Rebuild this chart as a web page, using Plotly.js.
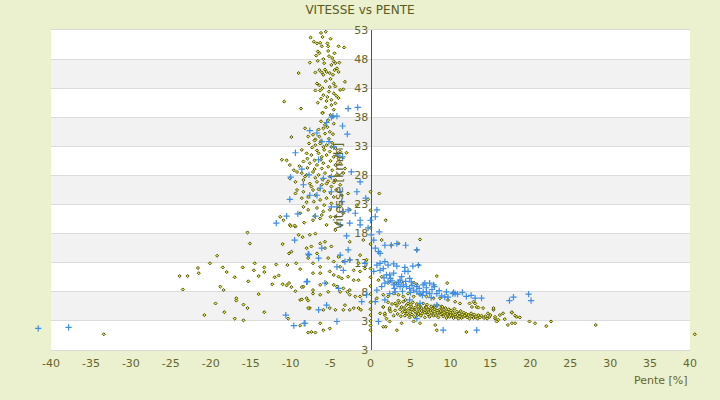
<!DOCTYPE html>
<html>
<head>
<meta charset="utf-8">
<script src="https://cdn.plot.ly/plotly-3.0.1.min.js"></script>
<style>
  html, body { margin: 0; padding: 0; background: #ebf0ce; }
  #graph { width: 720px; height: 400px; }
</style>
</head>
<body>
<div id="graph"></div>
<script>
'use strict';

// Axis ticks.
var penteTicks = [-40, -35, -30, -25, -20, -15, -10, -5, 0, 5, 10, 15, 20, 25, 30, 35, 40];
var vitesseTicks = [-2, 3, 8, 13, 18, 23, 28, 33, 38, 43, 48, 53];
var vitesseTickText = ['3', '3', '8', '13', '18', '23', '28', '33', '38', '43', '48', '53'];

// Olive series, [pente %, vitesse km/h].
var olivePoints = [
  [-7.5,51.7],[-6.2,52.5],[-5.6,52.7],[-7.1,51.0],[-6.7,50.7],[-6.3,50.8],[-6.1,50.2],[-5.4,50.7],[-5.3,50.2],[-4.0,50.2],[-3.3,50.0],
  [-6.6,49.3],[-6.4,49.0],[-5.3,49.4],[-5.2,48.5],[-4.5,49.0],
  [-7.6,47.4],[-6.6,47.7],[-5.8,47.3],[-4.6,47.6],[-4.4,47.3],[-3.9,47.4],[-4.9,47.0],
  [-9.0,45.6],[-6.9,45.7],[-6.4,46.1],[-6.1,45.7],[-5.7,46.2],[-5.5,45.8],[-5.1,45.6],[-4.5,46.1],[-4.2,46.4],[-4.0,45.8],[-4.7,45.3],[-5.9,45.3],
  [-6.7,43.8],[-6.4,43.5],[-4.6,43.8],[-4.4,43.3],[-3.2,44.1],[-3.8,42.7],[-3.4,42.8],
  [-6.9,42.6],[-6.3,42.6],[-5.9,41.8],[-5.2,42.4],[-4.6,42.1],[-4.3,41.7],[-4.0,41.3],[-4.9,41.0],[-5.5,40.8],
  [-10.8,40.7],[-8.7,39.5],[-6.6,40.5],[-6.0,38.8],[-5.6,39.7],[-4.9,40.1],[-4.6,39.3],
  [-5.0,51.5],[-6.0,51.8],[-4.8,48.2],[-5.9,48.0],[-6.8,48.6],[-5.0,44.6],[-5.6,44.2],[-6.0,43.0],[-5.1,43.2],[-5.4,41.5],[-6.2,41.2],[-4.4,40.4],
  [-6.0,38.7],[-5.0,38.4],[-4.7,38.1],[-5.3,37.5],[-6.2,37.3],[-4.6,36.9],[-6.5,35.9],[-5.4,36.3],
  [-5.7,36.7],[-5.9,36.1],[-5.1,35.5],[-4.7,35.1],[-5.7,35.2],
  [-8.2,36.1],[-7.8,34.7],[-7.2,35.0],[-6.9,34.2],[-6.4,34.7],[-9.9,34.6],
  [-7.7,33.5],[-6.9,33.2],[-6.3,33.5],[-5.9,32.9],[-5.5,33.2],[-4.9,32.9],[-4.4,32.7],[-5.1,32.1],
  [-8.6,32.4],[-8.0,31.8],[-7.4,31.5],[-6.5,31.8],[-6.1,31.2],[-5.5,31.5],[-4.6,31.2],[-3.8,32.1],[-3.0,31.9],
  [-11.1,30.7],[-10.5,30.6],[-10.1,29.8],[-9.6,28.9],[-8.4,30.4],[-7.6,30.1],[-6.7,29.8],[-5.9,30.1],[-5.3,29.5],[-4.4,29.8],[-3.8,30.1],[-3.2,29.2],
  [-9.2,28.6],[-8.6,28.4],[-8.0,28.1],[-7.2,28.6],[-6.5,28.1],[-5.7,28.4],[-5.1,27.8],[-4.2,28.1],[-3.4,28.4],[-4.4,27.2],
  [-10.1,27.5],[-9.4,26.9],[-8.4,27.2],[-7.6,26.6],[-6.7,26.9],[-6.1,26.4],[-5.5,26.6],[-4.9,26.1],[-3.8,26.4],[-9.2,25.5],[-8.4,25.2],[-7.2,25.5],
  [-9.4,24.9],[-8.6,24.1],[-7.8,24.3],[-6.9,24.6],[-6.3,23.8],[-5.5,24.1],[-4.6,24.3],[-3.6,24.6],[-2.8,24.9],
  [-8.4,22.6],[-7.8,22.1],[-6.7,22.4],[-5.9,21.8],[-5.1,22.1],[-4.4,20.9],[-3.4,21.5],[-2.6,22.1],[-1.7,22.9],[-8.8,21.5],[-11.3,20.9],[-10.1,19.5],[-9.4,19.2],[-7.2,20.3],[-6.3,20.6],[-5.5,19.5],[-4.2,19.8],
  [-7.0,34.0],[-6.2,33.9],[-5.2,34.3],[-4.8,33.6],[-7.3,32.8],[-6.7,32.3],[-5.8,32.4],[-4.2,31.7],[-7.9,30.9],[-7.0,30.6],[-6.2,30.7],[-5.0,30.5],[-4.0,30.9],
  [-8.9,29.6],[-7.9,29.3],[-7.0,29.1],[-6.1,29.2],[-4.8,28.9],[-8.2,27.8],[-6.9,27.6],[-6.0,27.3],[-5.3,27.0],[-4.6,26.8],[-7.4,26.1],[-6.5,25.6],[-5.8,25.3],
  [-5.0,25.0],[-4.3,25.5],[-8.0,23.4],[-7.1,23.5],[-5.8,22.9],[-4.9,23.2],[-6.1,21.2],[-7.0,21.0],[-5.0,20.9],[-3.8,22.7],
  [1.1,24.9],[-0.3,23.9],[1.9,20.3],
  [-7.6,17.8],[-6.9,18.0],[-4.4,18.6],[-2.6,16.6],[-0.9,16.9],[1.4,16.9],[2.6,16.0],[3.5,16.3],[6.2,17.0],[5.8,15.2],
  [-7.4,15.8],[-6.3,16.3],[-5.7,15.5],[-4.9,15.8],[-5.7,16.6],[-7.8,14.3],[-6.7,14.6],[-5.3,13.8],[-7.2,12.9],[-6.3,12.3],
  [-4.6,13.2],[-4.0,14.0],[-3.8,12.3],[-3.4,13.2],[-2.6,13.5],[-1.5,12.9],[-1.3,14.3],[-0.5,13.5],[-2.1,11.7],[-1.3,11.5],[-0.7,12.0],
  [-7.2,11.2],[-6.3,11.2],[-5.1,11.5],[-4.6,10.9],[-4.0,10.6],[-3.6,10.3],[-2.8,10.6],[-2.1,10.0],[-1.5,10.0],
  [-2.6,8.3],[-3.4,8.6],[-4.2,8.9],[-4.6,9.2],[-5.5,9.5],[-6.3,9.2],[-8.4,8.9],[-7.2,7.7],[-6.3,7.5],[-5.3,8.0],[-3.8,8.0],[-2.9,8.0],
  [-2.6,7.5],[-1.9,7.2],[-1.3,7.2],[-1.5,5.2],[-3.4,4.9],[-4.4,4.9],[-5.1,5.2],[-5.9,4.9],[-7.6,5.2],[-8.8,6.6],[-8.0,6.9],[-7.2,8.3],
  [-3.2,5.7],[-2.6,4.9],[-2.1,5.2],[-1.2,4.9],[-6.3,2.6],[-5.9,1.4],[-5.1,1.7],[-7.4,1.1],[-6.9,1.0],[1.9,2.0],[3.3,1.4],[1.6,5.4],[1.8,4.0],[2.4,4.9],
  [0,25.2],[0,22.0],[0,19.0],[0,16.2],[0,12.0],[0,10.5],[0,9.0],[0,7.6],[0,6.2],[0,5.0],[0,4.0],[0,3.0],[0,2.2],[0,1.4],
  [-15.4,18.2],[-15.1,16.3],[-19.2,14.2],[-20.1,12.9],[-21.6,12.1],[-21.5,11.2],[-23.9,10.7],[-22.9,10.7],[-23.5,8.4],
  [-18.5,12.2],[-18.0,11.4],[-17.0,10.5],[-16.0,12.2],[-15.3,9.8],[-14.5,12.9],[-14.6,11.7],[-13.3,12.2],[-13.3,11.4],[-14.0,10.7],
  [-12.3,9.3],[-12.0,10.5],[-11.5,10.8],[-11.8,12.7],[-11.0,16.2],[-10.4,12.6],[-10.2,14.6],[-9.9,14.9],[-9.3,12.9],[-9.0,17.8],
  [-8.5,17.4],[-8.0,15.5],[-7.8,13.8],[-8.8,11.9],[-11.0,9.3],[-10.5,9.1],[-10.2,9.5],[-9.9,8.8],[-9.4,8.1],[-8.6,8.8],
  [-10.9,20.3],[-10.0,19.3],[-9.5,19.4],[-8.3,19.9],[-18.8,8.9],[-18.4,8.3],[-14.0,7.6],[-19.4,6.0],[-16.8,6.9],[-16.8,6.5],
  [-15.9,5.8],[-15.4,5.2],[-18.3,4.5],[-20.8,4.0],[-17.0,3.4],[-15.9,3.1],[-13.3,4.5],[-10.3,3.4],[-8.8,2.2],[-7.8,1.0],
  [-8.6,6.7],[-7.8,6.5],[-7.8,5.2],
  [6.0,12.6],[8.3,10.7],[9.6,9.5],[2.4,9.7],[1.4,10.6],[1.0,10.0],[3.1,9.5],[3.9,9.7],[5.4,9.6],[5.8,9.3],
  [0.8,6.9],[1.6,7.5],[2.2,7.2],[2.9,7.7],[3.5,7.5],[4.1,7.2],[4.7,7.7],[5.4,7.2],[6.2,7.5],[7.0,7.2],[7.9,6.9],[8.7,6.9],
  [9.7,6.6],[10.6,6.3],[11.2,6.0],[12.4,6.0],[13.3,5.4],[14.1,5.2],[14.7,4.3],[15.4,4.9],
  [1.6,5.4],[2.4,5.2],[3.1,6.0],[1.8,4.3],[1.2,4.3],[2.0,3.4],[2.4,2.9],[1.6,2.0],[3.9,2.6],[5.4,2.9],[6.2,2.6],[8.1,2.3],[8.3,1.4],[12.0,1.1],[15.6,3.4],[15.8,2.9],
  [3.1,4.8],[3.3,5.6],[3.4,4.2],[3.6,6.1],[3.7,5.0],[3.8,3.8],[3.9,5.4],[4.0,4.5],
  [4.1,6.3],[4.2,5.2],[4.3,3.9],[4.4,4.8],[4.5,5.7],[4.6,4.3],[4.7,6.0],[4.8,5.1],[4.9,3.6],[5.0,4.6],
  [5.1,5.5],[5.2,4.1],[5.3,6.2],[5.4,4.9],[5.5,3.7],[5.6,5.3],[5.7,4.4],[5.8,5.9],[5.9,4.0],[6.0,5.0],
  [6.1,4.7],[6.2,5.6],[6.3,3.9],[6.4,5.2],[6.5,4.3],[6.6,6.0],[6.7,4.9],[6.8,3.6],[6.9,5.4],[7.0,4.5],
  [7.1,5.8],[7.2,4.1],[7.3,5.0],[7.4,3.7],[7.5,4.7],[7.6,5.5],[7.7,4.2],[7.8,5.1],[7.9,3.9],[8.0,4.6],
  [8.1,5.3],[8.2,4.0],[8.3,4.8],[8.4,5.7],[8.5,3.6],[8.6,4.4],[8.7,5.0],[8.8,4.1],[8.9,5.5],[9.0,4.3],
  [9.1,3.8],[9.2,4.9],[9.3,4.2],[9.4,5.2],[9.5,3.5],[9.6,4.6],[9.7,4.0],[9.8,5.0],[9.9,3.7],[10.0,4.4],
  [10.1,4.8],[10.2,3.9],[10.3,4.5],[10.4,3.5],[10.5,5.1],[10.6,4.1],[10.7,3.7],[10.8,4.6],[10.9,4.0],[11.0,3.4],
  [11.1,4.3],[11.2,3.8],[11.3,4.7],[11.4,3.5],[11.5,4.1],[11.6,3.7],[11.7,4.4],[11.8,3.9],[12.0,4.2],
  [12.1,3.6],[12.3,4.0],[12.4,3.4],[12.6,4.3],[12.7,3.8],[12.9,3.5],[13.0,4.1],
  [13.2,3.7],[13.4,3.4],[13.5,4.0],[13.7,3.6],[13.9,3.9],[14.2,3.5],[14.4,3.8],[14.6,3.4],[14.9,3.7],
  [4.3,4.6],[4.8,4.0],[5.2,5.0],[5.6,4.6],[6.0,4.2],[6.4,4.7],[6.8,4.4],[7.2,4.9],[7.6,4.4],[8.0,5.0],[8.4,4.4],[8.8,4.7],
  [9.2,4.5],[9.6,4.2],[10.0,4.0],[5.0,5.8],[6.0,5.5],[7.0,5.3],[8.0,5.6],[9.0,5.4],[3.5,6.5],[4.4,6.6],[2.7,5.9],[2.5,4.6],[2.2,6.2],[2.9,3.9],
  [15.4,5.2],[15.0,4.0],[15.6,3.7],[16.2,4.0],[16.6,4.3],[16.0,3.2],[16.8,3.3],[17.7,4.4],[18.3,3.7],[18.7,3.6],[17.7,4.5],[18.1,3.9],
  [17.2,2.3],[17.7,2.6],[18.1,2.6],[19.9,2.9],[20.6,2.6],[22.0,2.1],[22.6,2.9],[12.9,6.3],[13.1,6.0],[12.7,5.4],[13.5,5.3],
  [-33.4,0.7],[28.2,2.3],[40.6,0.7]
];

// Blue series, [pente %, vitesse km/h].
var bluePoints = [
  [-2.8,39.5],[-1.6,39.7],[-4.7,38.2],[-4.2,38.2],
  [-4.9,38.0],[-5.5,37.1],[-3.5,36.5],[-2.9,35.1],[-7.6,35.7],[-6.7,35.3],[-6.1,33.8],[-5.2,33.8],[-4.6,32.9],[-9.4,31.9],[-4.1,31.5],[-3.5,31.2],
  [-6.5,30.7],[-8.6,29.1],[-7.7,28.1],[-10.0,27.7],[-5.9,27.5],[-4.9,27.8],[-2.4,28.6],[-1.3,26.9],[-8.4,26.4],[-6.3,25.8],[-4.9,25.2],[-3.8,25.2],
  [-1.7,25.2],[-10.1,23.9],[-7.6,24.6],[-6.7,24.6],[-3.6,23.5],[-4.2,22.6],[-4.9,22.6],[-2.8,22.1],[-3.4,21.8],[-1.9,21.5],[-1.3,20.3],[0,20.3],
  [0.8,22.1],[0.6,20.9],[-0.6,24.1],[-11.8,19.8],[-10.5,21.0],[-9.1,21.4],[-6.9,21.0],[-2.6,19.8],[-3.8,19.5],[-1.3,19.5],[-0.3,19.0],
  [-3.0,17.6],[0.1,17.8],[0.4,16.9],[1.1,18.3],[0.6,15.5],[1.0,14.9],[1.2,14.6],[1.8,16.0],[2.6,16.0],[3.3,16.3],[4.4,16.0],[5.8,15.2],
  [-2.8,15.2],[-3.8,14.3],[-2.6,13.5],[-6.1,15.5],[-7.8,14.5],[-6.5,13.8],[-4.2,12.3],[-3.4,11.7],[-3.2,13.2],[-0.7,12.9],
  [-8.0,9.7],[-5.7,9.5],[-4.0,8.6],[-6.5,4.9],[-5.5,5.7],[-4.2,2.9],[-1.1,6.3],[-0.5,7.5],[-8.2,2.6],
  [-9.5,16.9],[-7.7,14.4],[-7.9,9.8],[-10.6,4.0],[-9.6,2.2],[-8.3,2.6],
  [0.8,12.6],[1.2,12.9],[1.8,13.2],[2.2,12.6],[2.9,12.8],[3.3,12.4],[4.3,12.2],[5.3,12.4],[6.0,12.6],
  [0.4,11.5],[1.2,11.7],[1.6,12.0],[2.0,10.9],[2.4,10.9],[2.9,11.2],[3.9,10.6],[4.3,11.5],[4.7,11.5],[3.7,10.0],[4.9,10.3],[5.1,9.7],
  [5.8,8.9],[6.6,9.2],[6.8,9.5],[7.4,9.5],[7.9,9.2],[0.8,8.3],[1.4,8.9],[1.8,9.5],[2.2,9.7],[2.9,9.2],[3.3,9.3],[3.7,8.9],[4.1,9.2],
  [4.5,8.9],[4.9,8.6],[5.4,8.3],[5.8,8.0],[6.2,7.7],[6.6,8.0],[7.0,8.0],[7.4,7.7],[8.3,7.7],[2.4,7.7],[3.1,8.0],
  [0.6,6.3],[1.8,6.6],[4.9,6.6],[6.2,6.0],[8.3,5.7],[1.0,2.9],[5.8,3.4],
  [2.7,9.9],[3.5,9.6],[4.4,9.8],[5.2,9.1],[6.1,8.6],[7.0,8.7],[7.7,8.4],[8.0,8.9],[1.7,10.4],[2.5,10.3],[3.0,8.6],[4.0,8.1],
  [5.0,7.9],[6.5,7.4],[7.6,7.0],[8.6,8.2],[9.5,8.0],[10.9,7.6],[11.5,7.9],[12.6,7.4],
  [8.9,7.3],[9.3,7.1],[9.7,7.1],[10.4,7.9],[10.3,7.7],[10.6,7.7],[12.0,7.2],[13.1,6.9],[13.9,6.9],[9.1,1.4],[13.3,1.4],
  [17.4,6.5],[17.9,7.1],[19.8,7.6],[20.1,6.5],
  [-41.6,1.7],[-37.8,1.9]
];

var W = 720, H = 400;
// Plot box in pixels, as in the reference.
var box = {left: 51, right: 690, top: 30, bottom: 350};
var penteRange = [-40, 40];
var vitesseRange = [-2, 53];

var olive = '#5c5c00';
var textColor = '#66662a';

function column(points, i) {
  return points.map(function (p) { return p[i]; });
}

// Domains of the visible axes.
var xDomain = [box.left / W, box.right / W];
var yDomain = [1 - box.bottom / H, 1 - box.top / H];

// Wider hidden axes on the same scale, so marks past the box are still drawn.
var kx = (penteRange[1] - penteRange[0]) / (box.right - box.left);
var ky = (vitesseRange[1] - vitesseRange[0]) / (box.bottom - box.top);
var penteRangeWide = [penteRange[0] - box.left * kx, penteRange[1] + (W - box.right) * kx];
var vitesseRangeWide = [vitesseRange[0] - (H - box.bottom) * ky, vitesseRange[1] + box.top * ky];

// Alternating horizontal bands between the speed ticks.
function bandShapes() {
  var shapes = [];
  for (var i = 0; i < vitesseTicks.length - 1; i++) {
    if (i % 2 === 1) {
      shapes.push({
        type: 'rect', xref: 'x', yref: 'y', layer: 'below',
        x0: penteRange[0], x1: penteRange[1], y0: vitesseTicks[i], y1: vitesseTicks[i + 1],
        fillcolor: '#f2f2f2', line: {width: 0}
      });
    }
  }
  return shapes;
}

var data = [
  {
    type: 'scatter', mode: 'markers', xaxis: 'x2', yaxis: 'y2', hoverinfo: 'none',
    x: column(olivePoints, 0), y: column(olivePoints, 1),
    marker: {symbol: 'diamond', size: 2.4, color: '#e2e640', line: {color: '#55550a', width: 1}}
  },
  {
    type: 'scatter', mode: 'markers', xaxis: 'x2', yaxis: 'y2', hoverinfo: 'none',
    x: column(bluePoints, 0), y: column(bluePoints, 1),
    marker: {symbol: 'cross-thin', size: 4.5, color: '#3d8ee6', line: {color: '#3d8ee6', width: 1.2}}
  }
];

var layout = {
  width: W,
  height: H,
  margin: {l: 0, r: 0, t: 0, b: 0},
  paper_bgcolor: '#ebf0ce',
  plot_bgcolor: 'rgba(0,0,0,0)',
  showlegend: false,
  font: {family: 'DejaVu Sans, sans-serif', size: 11, color: textColor},
  title: {
    text: 'VITESSE vs PENTE',
    x: 0.5, xanchor: 'center', y: 0.975, yanchor: 'middle',
    font: {size: 12, color: '#5a5a1e'}
  },
  xaxis: {
    domain: xDomain,
    range: penteRange,
    tickvals: penteTicks,
    ticktext: penteTicks.map(String),
    showgrid: false,
    zeroline: false,
    showline: true,
    mirror: true,
    linecolor: '#d9d9d9',
    linewidth: 1,
    ticks: 'outside',
    ticklen: 3,
    tickcolor: 'rgba(0,0,0,0)',
    tickfont: {size: 11, color: textColor}
  },
  yaxis: {
    domain: yDomain,
    range: vitesseRange,
    tickvals: vitesseTicks,
    ticktext: vitesseTickText,
    anchor: 'free',
    position: (xDomain[0] + xDomain[1]) / 2,
    showline: true,
    linecolor: olive,
    linewidth: 1.5,
    showgrid: true,
    gridcolor: '#dcdcdc',
    gridwidth: 1,
    zeroline: false,
    ticks: '',
    tickfont: {size: 11, color: textColor}
  },
  xaxis2: {domain: [0, 1], range: penteRangeWide, visible: false, anchor: 'y2', fixedrange: true},
  yaxis2: {domain: [0, 1], range: vitesseRangeWide, visible: false, anchor: 'x2', fixedrange: true},
  shapes: [{
    type: 'rect', xref: 'x', yref: 'y', layer: 'below',
    x0: penteRange[0], x1: penteRange[1], y0: vitesseRange[0], y1: vitesseRange[1],
    fillcolor: '#ffffff', line: {width: 0}
  }].concat(bandShapes()),
  annotations: [
    {
      text: 'Pente [%]', xref: 'paper', yref: 'paper',
      x: xDomain[1], xanchor: 'right', y: 1 - 380 / H, yanchor: 'middle',
      showarrow: false, font: {size: 11, color: textColor}
    },
    {
      text: 'Vitesse [km/h]', xref: 'paper', yref: 'paper', textangle: -90,
      x: 338.5 / W, xanchor: 'center', y: 1 - 186 / H, yanchor: 'middle',
      showarrow: false, font: {size: 12, color: textColor}
    }
  ]
};

Plotly.newPlot('graph', data, layout, {displayModeBar: false, staticPlot: true});
</script>
</body>
</html>
